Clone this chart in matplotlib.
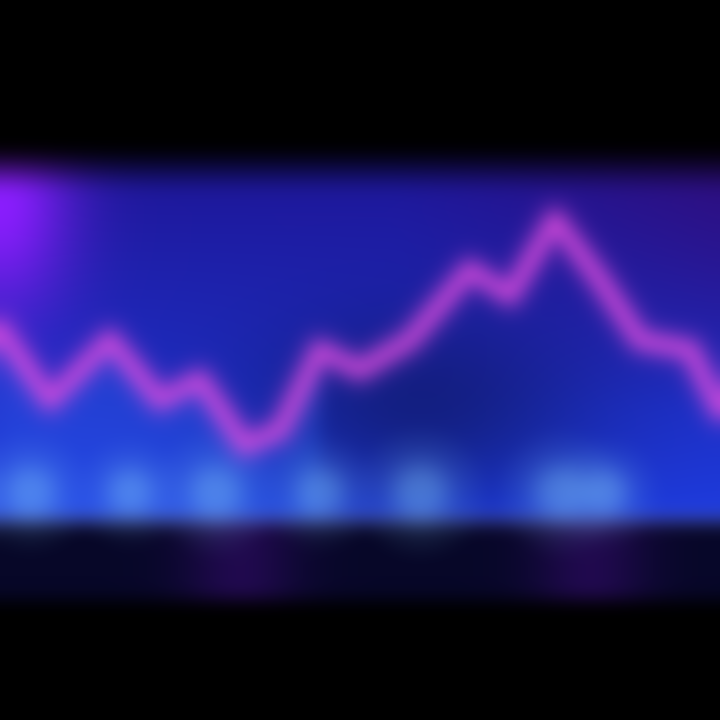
import numpy as np
import matplotlib
matplotlib.use('Agg')
import matplotlib.pyplot as plt

# line through the band (x in pixels of width, level above the band floor)
x_pos = [0, 50, 110, 160, 200, 245, 280, 320, 360, 410, 470, 510, 555, 600, 640, 690, 720]
level = [190, 120, 180, 120, 140, 75, 90, 170, 150, 180, 250, 225, 300, 240, 180, 170, 110]

# light cyan glows along the floor of the band
glow_x = [30, 130, 215, 320, 420, 560, 605]
glow_s = [1.0, 0.8, 1.1, 0.9, 1.2, 1.1, 0.8]

fig = plt.figure(figsize=(7.2, 7.2), dpi=100, facecolor='black')
ax = fig.add_axes([0, 0, 1, 1])
ax.set_facecolor('black')
ax.set_xlim(0, 720)
ax.set_ylim(-200, 520)
ax.axis('off')

# background band gradient
H, W = 370, 720
yy, xx = np.mgrid[0:H, 0:W]
fy = yy / (H - 1)          # 0 bottom -> 1 top
fx = xx / (W - 1)
bottom = np.array([0.12, 0.24, 0.88])
top = np.array([0.12, 0.08, 0.58])
band = bottom * (1 - fy[..., None]) + top * fy[..., None]
# purple corner top-left
pl = np.exp(-((xx - 0) ** 2 / (2 * 50 ** 2) + (yy - 320) ** 2 / (2 * 80 ** 2)))
band = band * (1 - pl[..., None]) + np.array([0.55, 0.12, 1.0]) * pl[..., None]
# dark purple on the upper right
pr = np.clip((fx - 0.55) / 0.45, 0, 1) * np.clip((fy - 0.3) / 0.7, 0, 1)
band = band * (1 - 0.7 * pr[..., None]) + np.array([0.22, 0.04, 0.45]) * 0.7 * pr[..., None]
# darker navy in the middle floor
dk = np.exp(-((xx - 420) ** 2 / (2 * 120 ** 2) + (yy - 110) ** 2 / (2 * 70 ** 2)))
band = band * (1 - 0.35 * dk[..., None])
# fade top edge to black
fade = np.clip((H - yy) / 40, 0, 1)
band = band * fade[..., None]
ax.imshow(band[::-1], extent=(0, 720, 0, 370), origin='upper', aspect='auto', zorder=1)

# brighter blue under the line on the left
ax.fill_between(x_pos[:8], 0, level[:8], color=(0.2, 0.45, 1.0), alpha=0.25, lw=0, zorder=2)

# cyan glows
for gx, gs in zip(glow_x, glow_s):
    for s, a in [(6000, 0.08), (2500, 0.15), (900, 0.25)]:
        ax.scatter([gx], [28], s=s * gs, color=(0.55, 0.85, 1.0), alpha=a, lw=0, zorder=3)

# bottom strip
strip = np.zeros((80, W, 3))
strip[:] = np.array([0.03, 0.03, 0.16])
for cx, w in [(240, 40), (590, 40)]:
    g = np.exp(-((np.arange(W) - cx) ** 2) / (2 * w ** 2))
    strip += np.array([0.10, 0.01, 0.15]) * g[None, :, None]
ax.imshow(strip, extent=(0, 720, -80, 0), aspect='auto', zorder=1)
ax.axhline(0, color=(0.7, 0.7, 0.9), lw=3, alpha=0.5, zorder=4)

# glowing line
for lw, a in [(34, 0.10), (22, 0.20), (13, 0.40), (7, 0.85)]:
    ax.plot(x_pos, level, color=(0.88, 0.30, 0.88), lw=lw, alpha=a,
            solid_capstyle='round', solid_joinstyle='round', zorder=5)

fig.canvas.draw()
img = np.asarray(fig.canvas.buffer_rgba())[..., :3].astype(float) / 255.0
plt.close(fig)


def box_blur(a, r):
    k = 2 * r + 1
    for axis in (0, 1):
        pad = [(0, 0)] * 3
        pad[axis] = (r, r)
        p = np.pad(a, pad, mode='edge')
        c = np.cumsum(p, axis=axis)
        z = np.zeros_like(np.take(c, [0], axis=axis))
        c = np.concatenate([z, c], axis=axis)
        n = c.shape[axis]
        a = (np.take(c, range(k, n), axis=axis) - np.take(c, range(0, n - k), axis=axis)) / k
    return a


for _ in range(3):
    img = box_blur(img, 8)

fig2 = plt.figure(figsize=(7.2, 7.2), dpi=100, facecolor='black')
ax2 = fig2.add_axes([0, 0, 1, 1])
ax2.imshow(np.clip(img, 0, 1), aspect='auto')
ax2.axis('off')
fig2.savefig('out.png', dpi=100, facecolor='black')
